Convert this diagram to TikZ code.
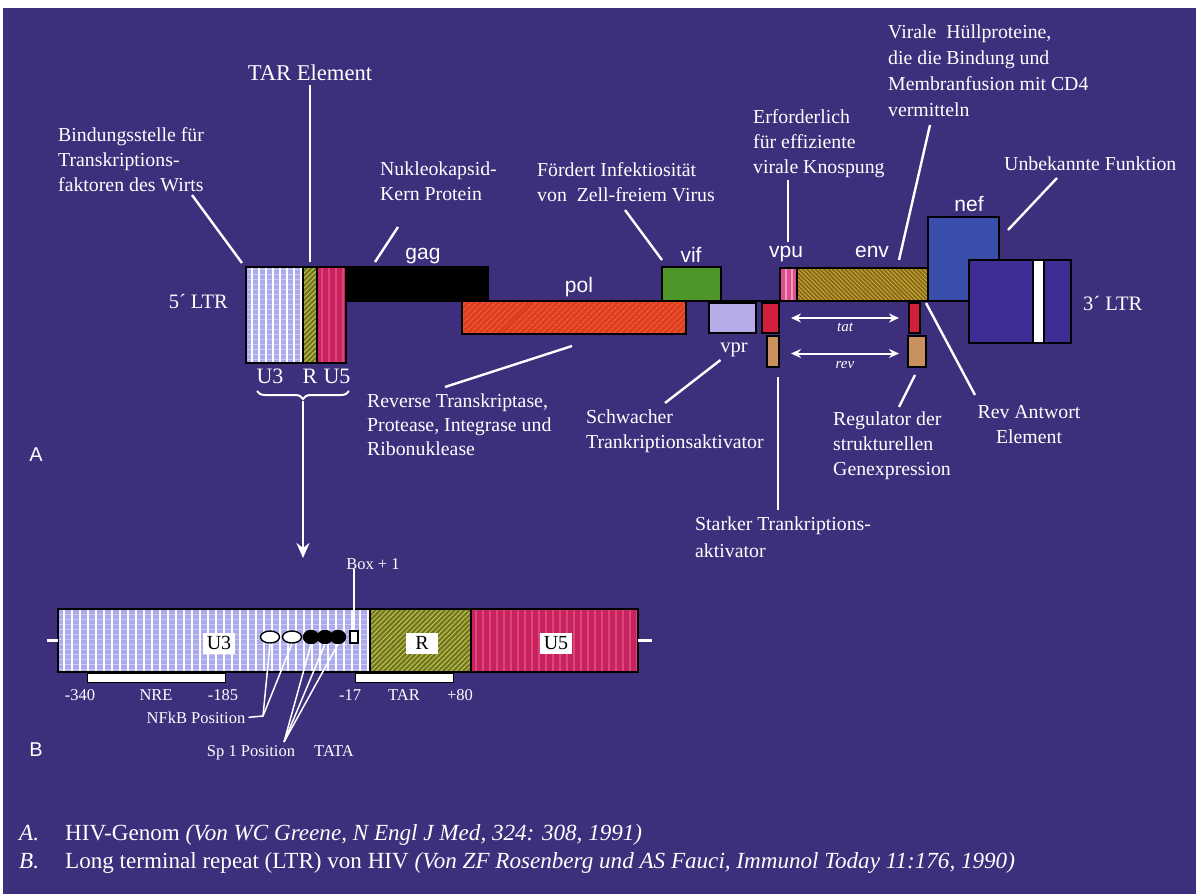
\documentclass[tikz,border=0pt]{standalone}
\usepackage{fontspec}
\setmainfont{Liberation Serif}
\newfontfamily\gsans{Liberation Sans}
\usetikzlibrary{patterns.meta,decorations.pathreplacing,arrows.meta,calc,shapes.geometric}
\definecolor{bgc}{RGB}{61,47,124}
\definecolor{lav}{RGB}{170,170,236}
\definecolor{lavl}{RGB}{205,205,248}
\definecolor{olv}{RGB}{115,115,40}
\definecolor{olvh}{RGB}{190,200,70}
\definecolor{crim}{RGB}{198,35,95}
\definecolor{crimh}{RGB}{222,70,122}
\definecolor{polc}{RGB}{222,62,30}
\definecolor{polh}{RGB}{240,105,65}
\definecolor{vifc}{RGB}{78,150,42}
\definecolor{vprc}{RGB}{182,172,232}
\definecolor{tatc}{RGB}{212,30,62}
\definecolor{revc}{RGB}{200,145,95}
\definecolor{vpuc}{RGB}{222,80,140}
\definecolor{vpuh}{RGB}{245,150,190}
\definecolor{envc}{RGB}{135,105,25}
\definecolor{envh}{RGB}{205,170,55}
\definecolor{nefc}{RGB}{58,78,172}
\definecolor{ltrc}{RGB}{62,45,148}
\newcommand\gbox[6]{\node[box,#2,minimum width={#5-#3},minimum height={#6-#4}] (#1) at (#3,#4) {};}
\begin{document}
\begin{tikzpicture}[x=1pt,y=-1pt,
  box/.style={draw=black,line width=1.6pt,inner sep=0pt,outer sep=0pt,anchor=north west},
  u3pat/.style={preaction={fill=lav},preaction={pattern={Lines[angle=0,distance=5pt,line width=0.9pt]},pattern color=lavl},pattern={Lines[angle=90,distance=7pt,line width=1.5pt]},pattern color=white},
  bu3pat/.style={preaction={fill=lav},preaction={pattern={Lines[angle=0,distance=5pt,line width=0.9pt]},pattern color=lavl},pattern={Lines[angle=90,distance=8pt,line width=1.3pt]},pattern color=white},
  rpat/.style={preaction={fill=olv},pattern={Lines[angle=45,distance=3.5pt,line width=1pt]},pattern color=olvh},
  u5pat/.style={preaction={fill=crim},pattern={Lines[angle=90,distance=7pt,line width=1.6pt]},pattern color=crimh},
  polpat/.style={preaction={fill=polc},pattern={Lines[angle=45,distance=4pt,line width=0.8pt]},pattern color=polh},
  vpupat/.style={preaction={fill=vpuc},pattern={Lines[angle=90,distance=6pt,line width=1.5pt]},pattern color=vpuh},
  envpat/.style={preaction={fill=envc},pattern={Lines[angle=-45,distance=3pt,line width=0.9pt]},pattern color=envh},
  leader/.style={draw=white,line width=2.4pt},
  thinlead/.style={draw=white,line width=1.5pt},
  lab/.style={text=white,font=\fontsize{19.8}{25}\selectfont,align=left,inner sep=0pt,anchor=north west},
  gene/.style={text=white,font=\gsans\fontsize{21}{25}\selectfont,inner sep=0pt,anchor=base},
  serifl/.style={text=white,font=\fontsize{20.5}{25}\selectfont,inner sep=0pt,anchor=base},
  small/.style={text=white,font=\fontsize{16.5}{19}\selectfont,inner sep=0pt,anchor=base},
  foot/.style={text=white,font=\fontsize{23.1}{28}\selectfont,inner sep=0pt,anchor=base west},
  lbox/.style={fill=white,text=black,font=\fontsize{20}{22}\selectfont,inner sep=0pt,minimum width=32pt,minimum height=21pt},
  ov/.style={ellipse,draw=black,line width=1.4pt,inner sep=0pt},
  dbl/.style={draw=white,line width=2pt,{Stealth[length=10pt,width=9pt]}-{Stealth[length=10pt,width=9pt]}}
]
\useasboundingbox (0,0) rectangle (1200,894);
\fill[white] (0,0) rectangle (1200,894);
\fill[bgc] (3,8) rectangle (1196,894);

% ---------- Part A: genome ----------
\gbox{u3a}{u3pat}{246}{267}{303}{363}
\gbox{ra}{rpat}{303}{267}{317}{363}
\gbox{u5a}{u5pat}{317}{267}{346}{363}
\gbox{gag}{fill=black}{346}{267}{488}{301}
\gbox{pol}{polpat}{462}{301}{686}{334}
\gbox{vif}{fill=vifc}{662}{267}{721}{301}
\gbox{vpr}{fill=vprc}{709}{303}{756}{333}
\gbox{tatA}{fill=tatc}{762}{303}{779}{333}
\gbox{revA}{fill=revc}{767}{336}{779}{367}
\gbox{vpu}{vpupat}{780}{268}{797}{301}
\gbox{env}{envpat}{797}{268}{928}{301}
\gbox{tatB}{fill=tatc}{909}{303}{920}{333}
\gbox{revB}{fill=revc}{908}{336}{926}{367}
\gbox{nef}{fill=nefc}{928}{217}{999}{301}
\gbox{ltr}{fill=ltrc}{969}{260}{1071}{343}
\gbox{ltrw}{fill=white}{1033}{260}{1044}{343}
\draw[black,line width=1.6pt] (gag.south west) -- (gag.south west -| ltr.west);

% gene labels
\node[gene] (gagl) at (423,259) {gag};
\node[gene] (poll) at (579,292) {pol};
\node[gene] (vifl) at (691,262) {vif};
\node[gene] (vpul) at (786,257) {vpu};
\node[gene] (envl) at (872,257) {env};
\node[gene] (nefl) at (969,211) {nef};
\node[serifl] (vprl) at (734,352) {vpr};
\node[serifl,anchor=base east] (ltr5l) at (228,308) {5´ LTR};
\node[serifl,anchor=base west] (ltr3l) at (1083,310) {3´ LTR};
\node[serifl,font=\fontsize{22}{25}\selectfont] (u3l) at (270,383) {U3};
\node[serifl,font=\fontsize{22}{25}\selectfont] (rl) at (310,383) {R};
\node[serifl,font=\fontsize{22}{25}\selectfont] (u5l) at (337,383) {U5};

% tat / rev arrows
\draw[dbl] ($(tatA.east)+(12,0)$) -- ($(tatA.east -| tatB.west)+(-10,0)$);
\draw[dbl] ($(revA.east)+(12,2)$) -- ($(revA.east -| revB.west)+(-9,2)$);
\node[text=white,font=\itshape\fontsize{15}{17}\selectfont,inner sep=0pt] (tatl) at (845,327) {tat};
\node[text=white,font=\itshape\fontsize{15}{17}\selectfont,inner sep=0pt] (revl) at (845,365) {rev};

% annotation labels
\node[lab] (bind) at (58,127) {Bindungsstelle für\\Transkriptions-\\faktoren des Wirts};
\node[text=white,font=\fontsize{22.6}{26}\selectfont,inner sep=0pt] (tar) at (310,73) {TAR Element};
\node[lab] (nukl) at (380,162) {Nukleokapsid-\\Kern Protein};
\node[lab] (foerd) at (537,162) {Fördert Infektiosität\\von\ \ Zell-freiem Virus};
\node[lab] (erford) at (753,109) {Erforderlich\\für effiziente\\virale Knospung};
\node[lab,font=\fontsize{19.8}{26}\selectfont] (viral) at (888,25) {Virale\ \ Hüllproteine,\\die die Bindung und\\Membranfusion mit CD4\\vermitteln};
\node[lab] (unbek) at (1004,157) {Unbekannte Funktion};
\node[lab,font=\fontsize{19.8}{24}\selectfont] (revtr) at (367,394) {Reverse Transkriptase,\\Protease, Integrase und\\Ribonuklease};
\node[lab] (schw) at (586,410) {Schwacher\\Trankriptionsaktivator};
\node[lab,font=\fontsize{19.8}{27}\selectfont] (stark) at (695,517) {Starker Trankriptions-\\aktivator};
\node[lab] (regul) at (833,412) {Regulator der\\strukturellen\\Genexpression};
\node[lab,align=center,anchor=north] (revant) at (1029,405) {Rev Antwort\\Element};
\node[text=white,font=\gsans\fontsize{20}{24}\selectfont,inner sep=0pt] (labA) at (36,455) {A};
\node[text=white,font=\gsans\fontsize{20}{24}\selectfont,inner sep=0pt] (labB) at (36,750) {B};

% leader lines
\coordinate (c1) at (192,195);
\draw[leader] (c1) -- ($(u3a.north west)+(-4,-4)$);
\draw[leader] ([yshift=-4pt]tar.south) -- ([yshift=5pt]ra.north);
\coordinate (c3) at (398,227);
\draw[leader] (c3) -- ($(gag.north west)+(29,-5)$);
\coordinate (c4) at (625,210);
\draw[leader] (c4) -- ($(vif.north west)+(0,-7)$);
\coordinate (c5) at (788,180);
\draw[leader] (c5) -- ([yshift=4pt]vpul.north -| c5);
\coordinate (c6) at (930,125);
\draw[leader] (c6) -- ($(env.north west)+(102,-8)$);
\coordinate (c7) at (1057,178);
\draw[leader] (c7) -- ($(nef.north east)+(9,13)$);
\coordinate (c8) at (572,346);
\draw[leader] (c8) -- ($(revtr.north west)+(78,-7)$);
\coordinate (c9) at (665,403);
\draw[leader] ($(vpr.south)+(-12,27)$) -- (c9);
\coordinate (c10) at (778,510);
\draw[leader] ($(revA.south)+(5,10)$) -- (c10);
\coordinate (c11) at (899,407);
\draw[leader] ($(revB.south)+(-2,8)$) -- (c11);
\coordinate (c12) at (975,395);
\draw[leader] ($(env.south east)+(-2,2)$) -- (c12);

% brace and arrow to part B
\coordinate (brL) at (257,391);
\coordinate (brR) at (349,391);
\draw[white,line width=2pt,decorate,decoration={brace,mirror,amplitude=8pt}] (brL) -- (brR);
\coordinate (brT) at (303,401);
\coordinate (arrT) at (303,558);
\draw[white,line width=2.4pt,-{Stealth[length=15pt,width=13pt,inset=5pt]}] (brT) -- (arrT);

% ---------- Part B: LTR ----------
\gbox{bu3}{bu3pat}{58}{609}{370}{672}
\gbox{br}{rpat}{370}{609}{471}{672}
\gbox{bu5}{u5pat}{471}{609}{638}{672}
\draw[white,line width=2.5pt] ([xshift=-11pt]bu3.west) -- (bu3.west);
\draw[white,line width=2.5pt] (bu5.east) -- ([xshift=14pt]bu5.east);
\node[lbox] (bu3l) at (219,643) {U3};
\node[lbox] (brl) at (422,643) {R};
\node[lbox] (bu5l) at (556,643) {U5};
\node[ov,fill=white,minimum width=19pt,minimum height=12pt] (o1) at (270,637) {};
\node[ov,fill=white,minimum width=19pt,minimum height=12pt] (o2) at (292,637) {};
\node[ov,fill=black,minimum width=15pt,minimum height=13pt] (o3) at (311,637) {};
\node[ov,fill=black,minimum width=15pt,minimum height=13pt] (o4) at (325,637) {};
\node[ov,fill=black,minimum width=15pt,minimum height=13pt] (o5) at (338,637) {};
\node[draw=black,fill=white,line width=1.3pt,minimum width=8pt,minimum height=12pt,inner sep=0pt] (sb) at (354,637) {};
\node[small] (boxl) at (373,569) {Box + 1};
\draw[thinlead] (boxl.south -| sb.north) -- (sb.north);
\gbox{nreb}{fill=white,line width=1pt}{87}{673}{225}{682}
\gbox{tarb}{fill=white,line width=1pt}{355}{673}{453}{682}
\node[small] (n340) at (80,700) {-340};
\node[small] (nre) at (156,700) {NRE};
\node[small] (n185) at (223,700) {-185};
\node[small] (n17) at (350,700) {-17};
\node[small] (ntar) at (404,700) {TAR};
\node[small] (n80) at (460,700) {+80};
\node[small] (nfkb) at (196,723) {NFkB Position};
\coordinate (nfj) at (263,716);
\draw[thinlead] ([xshift=3pt]nfkb.east) -- (nfj) -- (o1.south);
\draw[thinlead] (nfj) -- (o2.south);
\node[small] (sp1) at (251,756) {Sp 1 Position};
\node[small] (tata) at (334,756) {TATA};
\coordinate (spj) at (284,742);
\draw[thinlead] (spj) -- (o3.south);
\draw[thinlead] (spj) -- (o4.south);
\draw[thinlead] (spj) -- (o5.south);

% ---------- Footer ----------
\node[foot] (fa1) at (19,840) {\itshape A.};
\node[foot] (fa2) at (65,840) {HIV-Genom \textit{(Von WC Greene, N Engl J Med, 324: 308, 1991)}};
\node[foot] (fb1) at (19,868) {\itshape B.};
\node[foot] (fb2) at (65,868) {Long terminal repeat (LTR) von HIV \textit{(Von ZF Rosenberg und AS Fauci, Immunol Today 11:176, 1990)}};
\end{tikzpicture}
\end{document}
